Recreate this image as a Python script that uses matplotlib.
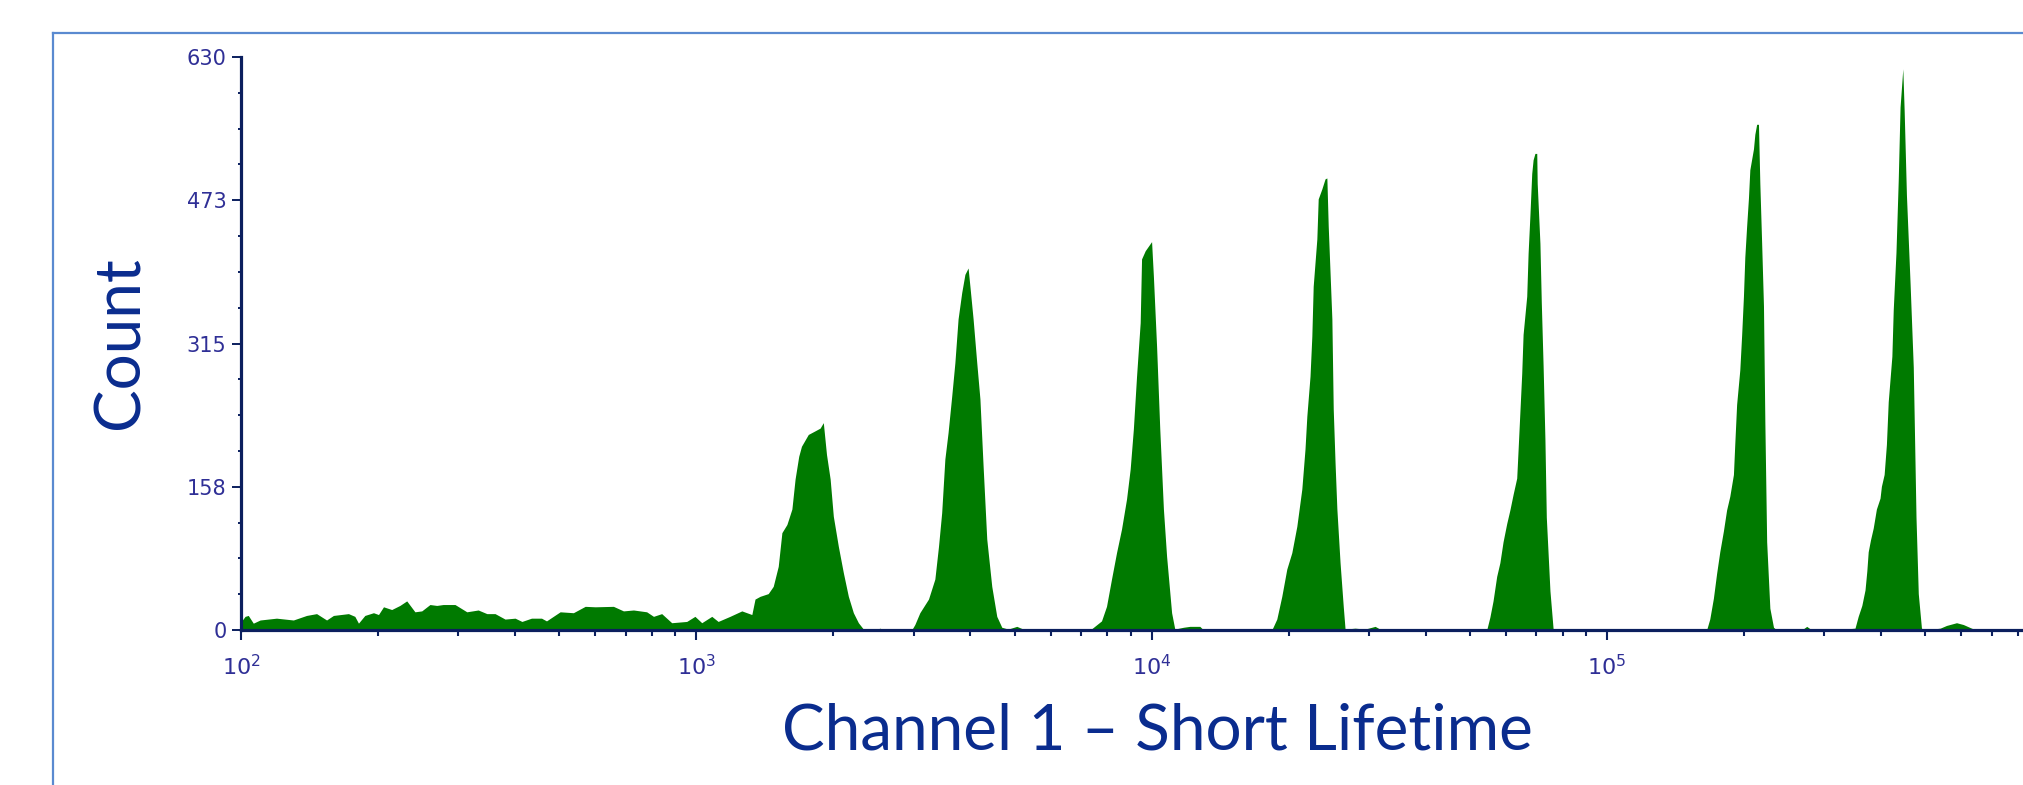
import numpy as np
import matplotlib
matplotlib.use("Agg")
from matplotlib import pyplot as plt
from matplotlib.ticker import FixedLocator, LogLocator, NullFormatter
from matplotlib.lines import Line2D

# histogram outline: log10(channel) and count
log_channel = [
    2.000, 2.009, 2.016, 2.027, 2.042, 2.078, 2.115, 2.144, 2.166, 2.188,
    2.203, 2.236, 2.250, 2.258, 2.272, 2.291, 2.302, 2.313, 2.331, 2.349,
    2.364, 2.382, 2.397, 2.415, 2.430, 2.444, 2.470, 2.496, 2.521, 2.540,
    2.558, 2.580, 2.602, 2.617, 2.638, 2.660, 2.671, 2.701, 2.730, 2.756,
    2.778, 2.818, 2.840, 2.862, 2.891, 2.906, 2.924, 2.946, 2.979, 2.997,
    3.012, 3.034, 3.048, 3.074, 3.100, 3.111, 3.122, 3.129, 3.140, 3.158,
    3.169, 3.180, 3.188, 3.199, 3.210, 3.217, 3.225, 3.231, 3.246, 3.261,
    3.272, 3.279, 3.286, 3.294, 3.301, 3.312, 3.323, 3.334, 3.345, 3.356,
    3.367, 3.396, 3.403, 3.414, 3.473, 3.480, 3.491, 3.510, 3.524, 3.532,
    3.539, 3.546, 3.553, 3.561, 3.568, 3.575, 3.583, 3.590, 3.597, 3.601,
    3.608, 3.616, 3.623, 3.630, 3.638, 3.649, 3.660, 3.671, 3.685, 3.704,
    3.718, 3.726, 3.865, 3.890, 3.901, 3.912, 3.923, 3.934, 3.945, 3.953,
    3.960, 3.967, 3.975, 3.978, 3.986, 3.993, 4.000, 4.004, 4.011, 4.018,
    4.026, 4.033, 4.044, 4.051, 4.070, 4.084, 4.106, 4.114, 4.264, 4.275,
    4.286, 4.297, 4.308, 4.319, 4.330, 4.337, 4.341, 4.348, 4.352, 4.355,
    4.363, 4.366, 4.374, 4.381, 4.385, 4.388, 4.396, 4.399, 4.403, 4.407,
    4.414, 4.421, 4.425, 4.447, 4.469, 4.491, 4.505, 4.736, 4.743, 4.750,
    4.758, 4.765, 4.772, 4.780, 4.787, 4.794, 4.802, 4.805, 4.809, 4.813,
    4.816, 4.824, 4.827, 4.831, 4.835, 4.838, 4.842, 4.846, 4.847, 4.853,
    4.856, 4.860, 4.864, 4.867, 4.875, 4.882, 4.897, 4.963, 4.989, 5.000,
    5.219, 5.226, 5.234, 5.241, 5.248, 5.256, 5.263, 5.270, 5.278, 5.281,
    5.285, 5.292, 5.296, 5.300, 5.303, 5.307, 5.311, 5.314, 5.322, 5.325,
    5.329, 5.333, 5.336, 5.340, 5.344, 5.347, 5.351, 5.358, 5.366, 5.373,
    5.428, 5.439, 5.450, 5.483, 5.490, 5.501, 5.545, 5.552, 5.560, 5.567,
    5.571, 5.574, 5.579, 5.585, 5.592, 5.600, 5.603, 5.609, 5.614, 5.618,
    5.626, 5.629, 5.635, 5.640, 5.644, 5.650, 5.653, 5.658, 5.666, 5.673,
    5.679, 5.684, 5.691, 5.699, 5.732, 5.746, 5.768, 5.783, 5.801, 5.812,
    5.914,
]
counts = [
    9, 15, 16, 7.5, 11, 13, 11, 16, 18, 11,
    16, 18, 15, 7.5, 16, 19, 17, 25.5, 22.5, 27,
    32, 20, 21, 28, 27, 28, 28, 20, 22, 18,
    18, 12, 13, 9.4, 13, 13, 10, 20, 19, 26,
    25.5, 26, 21, 22, 20, 15, 18, 8, 9.4, 15,
    8, 15, 9.4, 15, 21, 19, 17, 34, 37, 40,
    48, 70, 107, 116, 133, 166, 191, 202, 215, 219,
    222, 228, 193, 166, 125, 92, 63, 37, 19, 8,
    1, 0, 2, 0, 0, 6, 19, 34, 56, 92,
    129, 188, 217, 257, 294, 342, 371, 391, 398, 378,
    342, 294, 254, 180, 100, 48, 15, 3, 1, 4,
    1, 0, 0, 10, 26, 56, 85, 111, 144, 177,
    221, 279, 338, 408, 417, 422, 427, 389, 312, 221,
    133, 81, 19, 1, 3, 4, 4, 0, 0, 12,
    37, 67, 85, 114, 155, 199, 235, 279, 323, 378,
    430, 474, 485, 496, 497, 444, 342, 243, 184, 133,
    74, 26, 1, 2, 1, 4, 0, 0, 14, 32,
    59, 74, 97, 117, 132, 149, 167, 198, 240, 282,
    325, 367, 414, 456, 502, 517, 524, 524, 491, 425,
    360, 290, 209, 124, 43, 1, 0, 1.5, 1, 0,
    0, 12, 35, 62, 86, 109, 132, 147, 171, 205,
    248, 286, 324, 367, 410, 444, 475, 506, 529, 545,
    556, 556, 491, 425, 356, 229, 97, 24, 3, 0,
    0, 4, 0, 1, 1, 0, 2, 15, 27, 44,
    65, 86, 99, 112, 133, 145, 158, 171, 204, 251,
    301, 352, 415, 495, 575, 617, 571, 478, 381, 289,
    124, 40, 2, 0, 2, 5, 8, 6, 2, 0,
    0,
]

y_ticks = [0, 157.5, 315, 472.5, 630]
y_tick_labels = ["0", "158", "315", "473", "630"]
x_ticks = [1e2, 1e3, 1e4, 1e5]
x_tick_labels = ["$10^{2}$", "$10^{3}$", "$10^{4}$", "$10^{5}$"]

navy = "#0b1f5e"
tick_text = "#2f2f96"
label_blue = "#0a2c8e"
green = "#007a00"

plt.rcParams["mathtext.fontset"] = "dejavusans"

W, H = 2023, 785
fig = plt.figure(figsize=(W / 100, H / 100), dpi=100)
fig.patch.set_facecolor("white")

# light blue frame of the slide box (continues past the right and bottom edge)
fig.add_artist(Line2D([53 / W, 53 / W], [0, 1 - 33 / H], transform=fig.transFigure,
                      color="#5a8ad0", lw=1.6))
fig.add_artist(Line2D([53 / W, 1], [1 - 33 / H, 1 - 33 / H], transform=fig.transFigure,
                      color="#5a8ad0", lw=1.6))

ax = fig.add_axes([241 / W, 1 - 630 / H, (W - 241) / W, 573 / H])
channel = 10 ** np.array(log_channel)
ax.fill_between(channel, counts, 0, color=green, linewidth=0, zorder=1)

ax.set_xscale("log")
ax.set_xlim(1e2, 10 ** 5.914)
ax.set_ylim(0, 630)

for side in ["top", "right"]:
    ax.spines[side].set_visible(False)
for side in ["left", "bottom"]:
    ax.spines[side].set_color(navy)
    ax.spines[side].set_linewidth(2.3)
    ax.spines[side].set_zorder(3)

ax.set_yticks(y_ticks)
ax.set_yticklabels(y_tick_labels)
ax.yaxis.set_minor_locator(FixedLocator(np.arange(0, 631, 630 / 16)))
ax.set_xticks(x_ticks)
ax.set_xticklabels(x_tick_labels)
ax.xaxis.set_minor_locator(LogLocator(base=10, subs=np.arange(2, 10)))
ax.xaxis.set_minor_formatter(NullFormatter())

ax.tick_params(axis="y", which="major", length=6.5, width=1.4, color=navy,
               labelcolor=tick_text, labelsize=15, pad=4)
ax.tick_params(axis="y", which="minor", length=2.5, width=1.4, color=navy)
ax.tick_params(axis="x", which="major", length=7, width=1.5, color=navy,
               labelcolor=tick_text, labelsize=16, pad=10)
ax.tick_params(axis="x", which="minor", length=4.5, width=1.5, color=navy)

fig.text(121 / W, 1 - 343 / H, "Count", rotation=90, ha="center", va="center",
         family="Lato", fontsize=46, color=label_blue)
fig.text(1157 / W, 1 - 750 / H, "Channel 1 \u2013 Short Lifetime", ha="center",
         va="baseline", family="Lato", fontsize=46, color=label_blue)

fig.savefig("out.png", dpi=100, facecolor="white")
